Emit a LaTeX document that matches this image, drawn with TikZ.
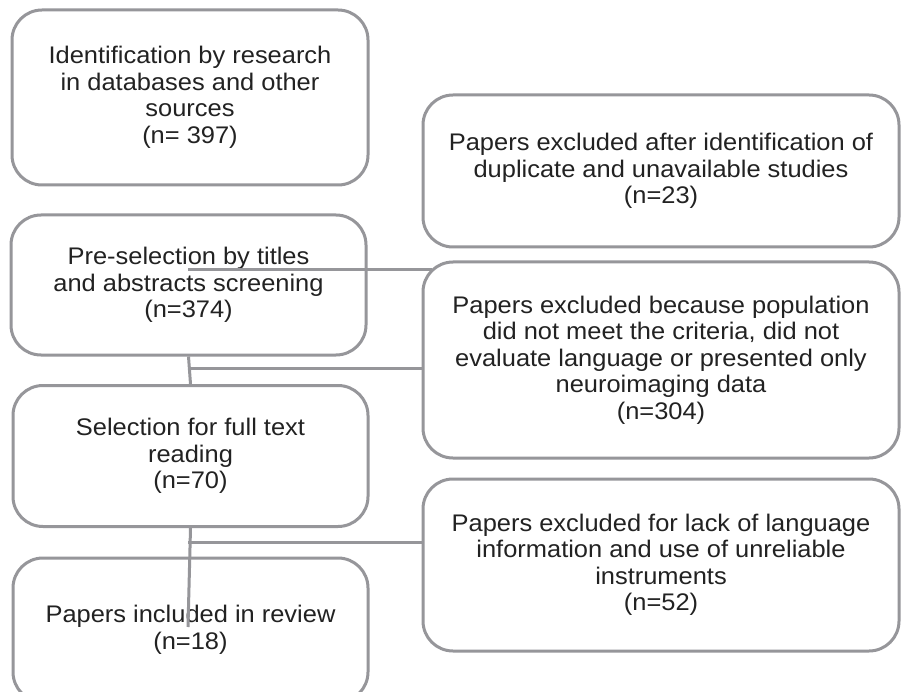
\documentclass[tikz,border=0pt]{standalone}
\usepackage{fontspec}
\setmainfont{Liberation Sans}[FakeStretch=1.06]
\usepackage{tikz}
\definecolor{boxgray}{HTML}{96969A}
\definecolor{txtgray}{HTML}{222222}

\begin{document}
\begin{tikzpicture}[x=1pt,y=-1pt,
	stage/.style={draw=boxgray,line width=3pt,rounded corners=30pt,align=center,text=txtgray,inner sep=0pt,font=\fontsize{24}{26.5}\selectfont},
	link/.style={draw=boxgray,line width=3pt}]
			\clip (0,0) rectangle (901,692);
			\fill[white] (0,0) rectangle (901,692);
			\node[stage,minimum width=356pt,minimum height=175pt] (ident) at (190,97.5) {Identification by research\\in databases and other\\sources\\(n= 397)};
			\node[stage,minimum width=355pt,minimum height=140pt] (presel) at (188.5,285) {Pre-selection by titles\\and abstracts screening\\(n=374)};
			\node[stage,minimum width=355pt,minimum height=141pt] (sel) at (190.5,456) {Selection for full text\\reading\\(n=70)};
			\node[stage,minimum width=355pt,minimum height=144pt] (incl) at (190.5,630) {Papers included in review\\(n=18)};
			\node[stage,minimum width=476pt,minimum height=152pt] (exdup) at (661,171) {Papers excluded after identification of\\duplicate and unavailable studies\\(n=23)};
			\node[stage,minimum width=476pt,minimum height=196pt] (expop) at (661,360) {Papers excluded because population\\did not meet the criteria, did not\\evaluate language or presented only\\neuroimaging data\\(n=304)};
			\node[stage,minimum width=476pt,minimum height=172pt] (exlang) at (661,565) {Papers excluded for lack of language\\information and use of unreliable\\instruments\\(n=52)};
			\coordinate (p1) at (188,270);
			\coordinate (p2) at (432,270);
			\coordinate (j1) at (188,368);
			\coordinate (j2) at (188,542);
			\coordinate (e3) at (188,627);
			\draw[link] (p1) -- (p2);
			\draw[link] (presel.south) -- (sel.north);
			\draw[link] (j1) -- (j1 -| expop.west);
			\draw[link] (sel.south) -- (e3);
			\draw[link] (j2) -- (j2 -| exlang.west);
		\end{tikzpicture}
\end{document}
